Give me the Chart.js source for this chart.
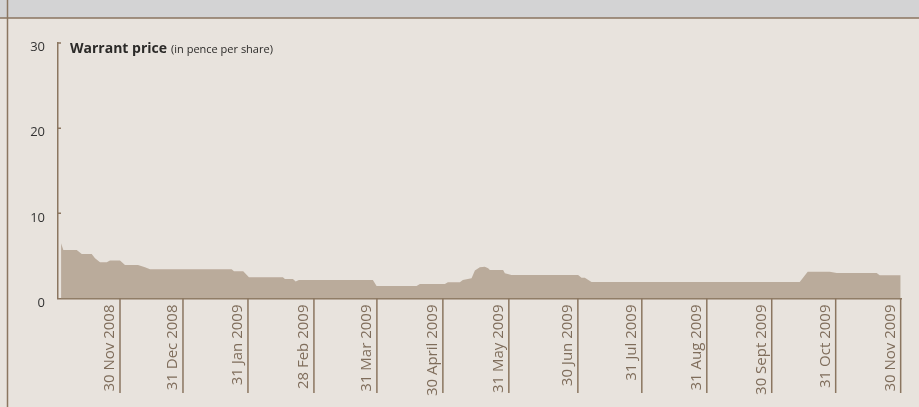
<!DOCTYPE html>
<html>
<head>
<meta charset="utf-8">
<script src="https://cdn.jsdelivr.net/npm/chart.js@4/dist/chart.umd.min.js"></script>
<style>
  html, body { margin: 0; padding: 0; background: #e8e3dd; }
  #wrap { width: 919px; height: 407px; position: relative; }
  canvas { display: block; }
</style>
</head>
<body>
<div id="wrap"><canvas id="c" width="919" height="407"></canvas></div>
<script>
// Month-end tick positions (x in months, 30 Nov 2008 = 1)
const tickMonths = [1, 1.968, 2.967, 3.981, 4.949, 5.963, 6.977, 8.038, 9.021, 10.02, 11.018, 12.001, 13];
const tickLabels = ['30 Nov 2008', '31 Dec 2008', '31 Jan 2009', '28 Feb 2009', '31 Mar 2009', '30 April 2009',
  '31 May 2009', '30 Jun 2009', '31 Jul 2009', '31 Aug 2009', '30 Sept 2009', '31 Oct 2009', '30 Nov 2009'];
const yTicks = [0, 10, 20, 30];

// Warrant price (pence per share)
const priceX = [0.094, 0.129, 0.335, 0.412, 0.565, 0.616, 0.693, 0.796, 0.846, 1.0, 1.077, 1.277, 1.384, 1.461,
  2.716, 2.752, 2.894, 2.982, 3.504, 3.535, 3.658, 3.700, 3.750, 4.887, 4.944, 5.559, 5.610, 5.994, 6.040,
  6.224, 6.270, 6.404, 6.455, 6.531, 6.608, 6.659, 6.685, 6.889, 6.916, 7.018, 8.042, 8.094, 8.145, 8.248,
  11.448, 11.571, 11.909, 12.017, 12.631, 12.677, 13.0];
const priceY = [6.5, 5.7, 5.7, 5.23, 5.23, 4.73, 4.26, 4.26, 4.45, 4.45, 3.94, 3.94, 3.67, 3.43,
  3.43, 3.2, 3.2, 2.49, 2.49, 2.3, 2.3, 2.0, 2.18, 2.18, 1.47, 1.47, 1.70, 1.70, 1.90,
  1.90, 2.18, 2.38, 3.3, 3.67, 3.74, 3.55, 3.35, 3.35, 2.96, 2.76, 2.76, 2.45, 2.45, 1.95,
  1.95, 3.15, 3.15, 3.0, 3.0, 2.72, 2.72];

const BROWN = '#8b7660';
const FILL = '#baab9b';

const deco = {
  id: 'deco',
  beforeDraw(chart) {
    const ctx = chart.ctx;
    ctx.save();
    ctx.fillStyle = '#e8e3dd';
    ctx.fillRect(0, 0, chart.width, chart.height);
    ctx.fillStyle = '#d3d3d4';
    ctx.fillRect(0, 0, chart.width, 18);
    ctx.strokeStyle = BROWN;
    ctx.lineWidth = 1.5;
    ctx.beginPath();
    ctx.moveTo(0, 18); ctx.lineTo(chart.width, 18);
    ctx.moveTo(7.5, 0); ctx.lineTo(7.5, chart.height);
    ctx.stroke();
    ctx.restore();
  },
  afterDraw(chart) {
    const ctx = chart.ctx;
    const xs = chart.scales.x, ys = chart.scales.y;
    const y0 = ys.getPixelForValue(0);
    ctx.save();
    ctx.strokeStyle = BROWN;
    ctx.lineWidth = 1.5;
    ctx.beginPath();
    tickMonths.forEach(v => {
      const px = xs.getPixelForValue(v);
      ctx.moveTo(px, y0); ctx.lineTo(px, 393);
    });
    yTicks.forEach(v => {
      if (v === 0) return;
      const py = ys.getPixelForValue(v);
      ctx.moveTo(xs.left, py); ctx.lineTo(xs.left + 3, py);
    });
    ctx.stroke();
    // title
    ctx.fillStyle = '#2b2a28';
    ctx.textBaseline = 'alphabetic';
    ctx.font = 'bold 14px "Open Sans"';
    const t1 = 'Warrant price';
    ctx.fillText(t1, 70, 53);
    const w1 = ctx.measureText(t1).width;
    ctx.font = '11px "Open Sans"';
    ctx.fillText('(in pence per share)', 70 + w1 + 4, 53);
    ctx.restore();
  }
};

new Chart(document.getElementById('c'), {
  type: 'line',
  data: {
    datasets: [{
      data: priceX.map((x, i) => ({ x: x, y: priceY[i] })),
      borderWidth: 0,
      borderColor: FILL,
      backgroundColor: FILL,
      fill: 'origin',
      pointRadius: 0,
      tension: 0
    }]
  },
  options: {
    responsive: false,
    animation: false,
    layout: { padding: { left: 0, right: 18, top: 43, bottom: 0 } },
    plugins: { legend: { display: false }, tooltip: { enabled: false } },
    scales: {
      x: {
        type: 'linear',
        min: 0.047,
        max: 13.005,
        afterBuildTicks: s => { s.ticks = tickMonths.map(v => ({ value: v })); },
        afterFit: s => { s.height = 407 - 298.5; s.paddingLeft = 0; s.paddingRight = 0; },
        grid: { display: false },
        border: { display: true, color: BROWN, width: 1.5 },
        ticks: {
          autoSkip: false,
          minRotation: 90,
          maxRotation: 90,
          padding: -2,
          labelOffset: -10,
          color: '#7f6d5b',
          font: { family: 'Open Sans', size: 15 },
          callback: (v, i) => tickLabels[i]
        }
      },
      y: {
        min: 0,
        max: 30,
        afterBuildTicks: s => { s.ticks = yTicks.map(v => ({ value: v })); },
        afterFit: s => { s.width = 58; },
        grid: { display: false },
        border: { display: true, color: BROWN, width: 1.5 },
        ticks: {
          padding: 5,
          labelOffset: 4.5,
          color: '#333333',
          font: { family: 'Open Sans', size: 13 }
        }
      }
    }
  },
  plugins: [deco]
});
</script>
</body>
</html>
